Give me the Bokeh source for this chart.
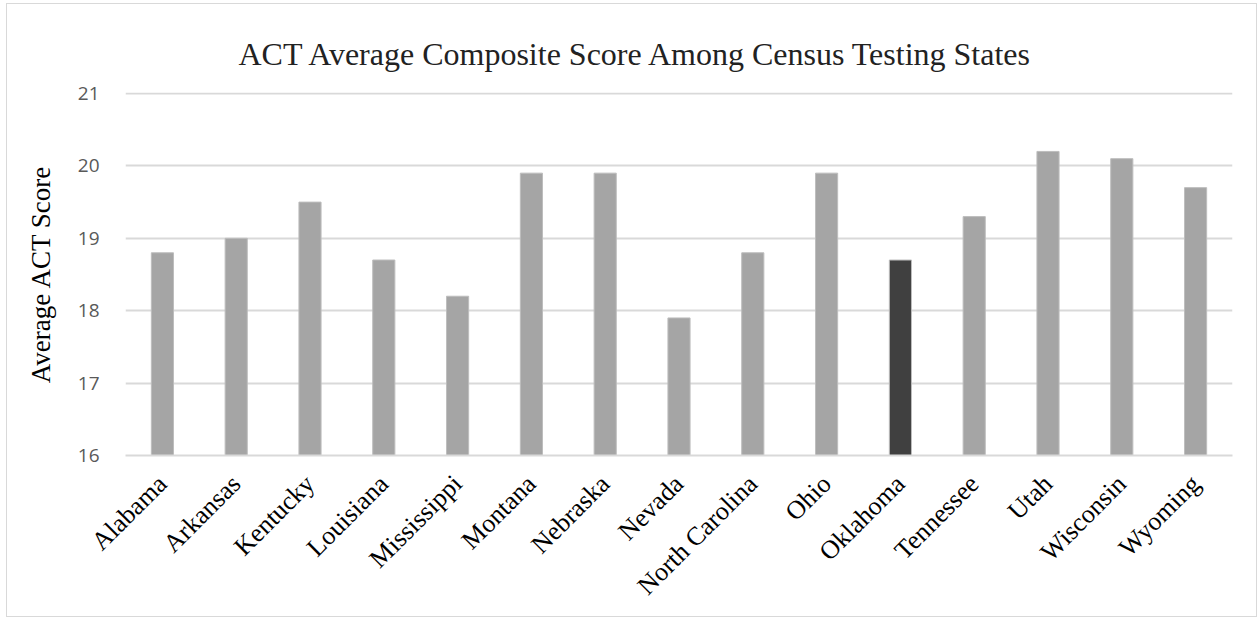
from math import pi
from bokeh.plotting import figure
from bokeh.models import ColumnDataSource, Range1d, FixedTicker
from bokeh.embed import file_html
from bokeh.resources import INLINE

states = ["Alabama", "Arkansas", "Kentucky", "Louisiana", "Mississippi", "Montana",
          "Nebraska", "Nevada", "North Carolina", "Ohio", "Oklahoma", "Tennessee",
          "Utah", "Wisconsin", "Wyoming"]
scores = [18.8, 19.0, 19.5, 18.7, 18.2, 19.9, 19.9, 17.9, 18.8, 19.9, 18.7, 19.3,
          20.2, 20.1, 19.7]
highlight = "Oklahoma"
y_ticks = [16, 17, 18, 19, 20, 21]
title_text = "ACT Average Composite Score Among Census Testing States"

colors = ["#404040" if s == highlight else "#a5a5a5" for s in states]
src = ColumnDataSource(dict(state=states, score=scores, color=colors))

p = figure(x_range=states, y_range=Range1d(16, 21.014), width=1251, height=614,
           output_backend="svg", toolbar_location=None, title=title_text)
p.min_border_left = 118
p.min_border_right = 26
p.min_border_top = 88
p.min_border_bottom = 163

p.vbar(x="state", top="score", bottom=16, width=0.3, source=src,
       fill_color="color", line_color="#bdbdbd", line_width=1)

p.title.text_font = "Liberation Serif"
p.title.text_font_size = "32px"
p.title.text_font_style = "normal"
p.title.text_color = "#222222"
p.title.align = "left"
p.title.offset = 113
p.title.vertical_align = "top"
p.title.standoff = 38

p.outline_line_color = None
p.xgrid.grid_line_color = None
p.ygrid.grid_line_color = "#d9d9d9"
p.ygrid.grid_line_width = 2

p.yaxis.ticker = FixedTicker(ticks=y_ticks)
p.yaxis.axis_line_color = None
p.yaxis.major_tick_line_color = None
p.yaxis.minor_tick_line_color = None
p.yaxis.major_label_text_font = "Open Sans"
p.yaxis.major_label_text_font_size = "19px"
p.yaxis.major_label_text_color = "#595959"
p.yaxis.major_label_standoff = 20
p.yaxis.axis_label = "Average ACT Score"
p.yaxis.axis_label_text_font = "Liberation Serif"
p.yaxis.axis_label_text_font_size = "27px"
p.yaxis.axis_label_text_font_style = "normal"
p.yaxis.axis_label_text_color = "#000000"
p.yaxis.axis_label_standoff = 19

p.xaxis.axis_line_color = "#d9d9d9"
p.xaxis.axis_line_width = 2
p.xaxis.major_tick_line_color = None
p.xaxis.minor_tick_line_color = None
p.xaxis.major_label_orientation = pi / 4
p.xaxis.major_label_text_font = "Liberation Serif"
p.xaxis.major_label_text_font_size = "26px"
p.xaxis.major_label_text_color = "#000000"
p.xaxis.major_label_standoff = 18

p.styles = {"border": "1px solid #d9d9d9", "margin-left": "6px", "margin-top": "3px"}

open("out.html", "w").write(file_html(p, INLINE))
